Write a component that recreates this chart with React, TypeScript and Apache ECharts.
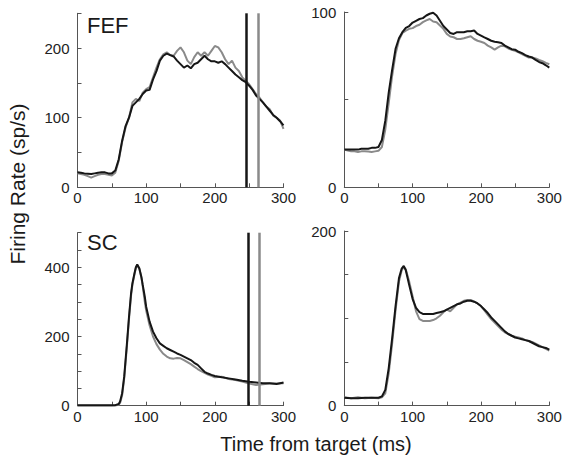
import React, { useEffect, useRef } from "react";
import * as echarts from "echarts";

// time axis (ms)
const T5 = [0,5,10,15,20,25,30,35,40,45,50,55,60,65,70,75,80,85,90,95,100,105,110,115,120,125,130,135,140,145,150,155,160,165,170,175,180,185,190,195,200,205,210,215,220,225,230,235,240,245,250,255,260,265,270,275,280,285,290,295,300];

// FEF, panel A (top-left)
const fefA_black = [21.5,21,20,19.5,19,20,21,21.5,21.5,20, 20,24,40,67,88,100,117,122,127,134, 139,140,155,167,182,189,192,190,188,182, 177,172,175,171,177,179,184,189,184,181, 181,179,181,177,172,167,162,158,154,151, 146,140,132,127,122,116,110,104,100,95, 89];
const fefA_gray = [20,19,18,16,14,16,18,19,19,18, 17,21,38,65,86,100,122,127,124,136, 141,144,158,172,184,191,194,190,189,196, 201,194,182,177,187,194,189,194,189,196, 203,201,194,184,177,182,172,167,158,153, 148,141,134,129,122,116,112,103,100,96, 84];
const fefA_marks = [246, 263];

// FEF, panel B (top-right)
const fefB_black = [21.5,21.5,21.5,21.5,21.5,22,22,22,22.5,22.5, 23,27,38,54,67,79,85,88.5,91,92, 94,95,96,96.5,98,99,99.6,98,95,92, 90,88,87.5,88.5,88.5,88.5,89,89,89.4,87.5, 86.5,85.5,84.6,83.6,83,82.7,82.3,80.8,79.8,78.8, 78.5,77.3,76.5,75.4,74.6,74,72.7,71.5,70.8,69.6, 68.3];
const fefB_gray = [21.5,21,20.6,20.5,20.2,20.5,20.6,20.4,20.2,20.5, 20.8,23,33,48,63.5,76,84,88,89.4,90.4, 90.8,92,92.7,94.2,95.2,96,94.6,94.2,92.3,90.4, 87.5,86,85.6,84.6,84.6,85,85.6,86.2,84.6,83.6, 83,82.3,80.8,79.8,78.5,79.8,80.8,80.4,79.2,78.5, 77.9,77,76,75,74,74,73.5,72.7,72,71, 70.2];

// SC, panel C (bottom-left)
const T_SC = [0,10,20,30,40,50,55,60,62,65,68,70,72,75,78,80,83,85,87,90,93,95,98,100,105,110,115,120,125,130,135,140,145,150,155,160,165,170,175,180,185,190,195,200,210,220,230,240,250,260,270,280,290,300];
const scC_black = [1,1,1,1,1,1,1.5,5,12,36,84,132,180,257,325,354,383,400,408,397,373,349,315,286,243,214,195,180,173,166,161,156,151,147,142,137,132,124,118,108,98,93,89,86,82,79,76,72,69,67,65,65,63,67];
const scC_gray = [0,0,0,0,0,0,0.5,3,8,30,78,125,172,250,318,350,380,398,406,396,370,345,300,275,232,200,178,162,150,142,137,136,138,137,132,126,120,113,106,100,95,90,86,82,84,77,74,70,64,60,62,64,64,65];
const scC_marks = [248, 264];

// SC, panel D (bottom-right)
const T_SC2 = [0,10,20,30,40,50,55,60,65,70,75,80,84,87,90,95,100,105,110,115,120,125,130,135,140,145,150,155,160,165,170,175,180,185,190,195,200,205,210,215,220,225,230,235,240,245,250,255,260,265,270,275,280,285,290,295,300];
const scD_black = [9,8.5,8.5,9,9,9,10.5,18,43,77,114,146,157,160,155,138,122,112,107,105,105,105,105,106,107,108,110,112,114,116,117,119,120,120,119,117,114,110,106,101,97,93,89,85,82,80,78,77,76,75,74,72,70,68,67,66,64];
const scD_gray = [9.5,8.5,9.5,8.5,9,8.5,9.5,14,37,71,109,142,155,159,156,142,125,108,99,97,97,97,98,100,103,107,110,108,112,116,118,120,121,121,119,117,114,109,104,99,95,91,87,84,82,80,79,78,77,75,74,73,71,69,67,65,63];

// axis settings
const yMax = [250, 100, 500, 200];
const yLabelStep = [100, 100, 200, 200];
const xLabels = [0, 100, 200, 300];

const BLACK = "#161616";
const GRAY = "#8a8a8a";
const FONT = "Liberation Sans, Arial, sans-serif";

function pairs(t: number[], v: number[]) {
  return t.map((x, i) => [x, v[i]]);
}

export default function App() {
  const ref = useRef<HTMLDivElement>(null);
  useEffect(() => {
    const chart = echarts.init(ref.current!, null, { renderer: "svg" });
    const grids = [
      { left: 77.5, top: 13.3, width: 206, height: 174 },
      { left: 344.3, top: 12, width: 205, height: 175.3 },
      { left: 77.5, top: 232.7, width: 206, height: 173 },
      { left: 344.3, top: 231, width: 205, height: 174.6 },
    ];
    const axisLine = { show: true, lineStyle: { color: "#555", width: 1 } };
    const axisTick = { show: true, inside: true, length: 4, lineStyle: { color: "#555" } };
    const xAxes = grids.map((_, i) => ({
      type: "value",
      gridIndex: i,
      min: 0,
      max: 300,
      interval: 50,
      axisLine,
      axisTick,
      splitLine: { show: false },
      axisLabel: {
        margin: 3,
        fontSize: 15,
        fontFamily: FONT,
        color: "#222",
        formatter: (v: number) => (xLabels.indexOf(v) >= 0 ? String(v) : ""),
      },
    }));
    const yAxes = grids.map((_, i) => ({
      type: "value",
      gridIndex: i,
      min: 0,
      max: yMax[i],
      interval: 50,
      axisLine,
      axisTick,
      splitLine: { show: false },
      axisLabel: {
        margin: 8,
        fontSize: 15,
        fontFamily: FONT,
        color: "#222",
        formatter: (v: number) => (v % yLabelStep[i] === 0 ? String(v) : ""),
      },
    }));
    const line = (idx: number, data: number[][], color: string, marks?: number[]) => {
      const s: any = {
        type: "line",
        xAxisIndex: idx,
        yAxisIndex: idx,
        data,
        showSymbol: false,
        symbol: "none",
        lineStyle: { color, width: 2 },
        itemStyle: { color },
        silent: true,
      };
      if (marks) {
        s.markLine = {
          silent: true,
          symbol: ["none", "none"],
          label: { show: false },
          lineStyle: { type: "solid", width: 2.5 },
          data: [
            { xAxis: marks[0], lineStyle: { color: BLACK, type: "solid", width: 2.5 } },
            { xAxis: marks[1], lineStyle: { color: GRAY, type: "solid", width: 2.5 } },
          ],
        };
      }
      return s;
    };
    const textEl = (text: string, x: number, y: number, size: number, align: string, rotation = 0) => ({
      type: "text",
      x,
      y,
      rotation,
      silent: true,
      style: {
        text,
        fill: "#1a1a1a",
        fontSize: size,
        fontFamily: FONT,
        align,
        textAlign: align,
        verticalAlign: "middle",
        textVerticalAlign: "middle",
      },
    });
    chart.setOption({
      animation: false,
      backgroundColor: "#ffffff",
      grid: grids,
      xAxis: xAxes,
      yAxis: yAxes,
      series: [
        line(0, pairs(T5, fefA_gray), GRAY),
        line(0, pairs(T5, fefA_black), BLACK, fefA_marks),
        line(1, pairs(T5, fefB_gray), GRAY),
        line(1, pairs(T5, fefB_black), BLACK),
        line(2, pairs(T_SC, scC_gray), GRAY),
        line(2, pairs(T_SC, scC_black), BLACK, scC_marks),
        line(3, pairs(T_SC2, scD_gray), GRAY),
        line(3, pairs(T_SC2, scD_black), BLACK),
      ],
      graphic: [
        textEl("FEF", 87, 25, 22, "left"),
        textEl("SC", 87, 242, 22, "left"),
        textEl("Time from target (ms)", 316, 444, 20, "center"),
        textEl("Firing Rate (sp/s)", 17, 184, 21, "center", Math.PI / 2),
      ],
    });
    return () => chart.dispose();
  }, []);
  return (
    <div
      ref={ref}
      style={{ position: "fixed", left: 0, top: 0, width: 569, height: 457 }}
    />
  );
}
